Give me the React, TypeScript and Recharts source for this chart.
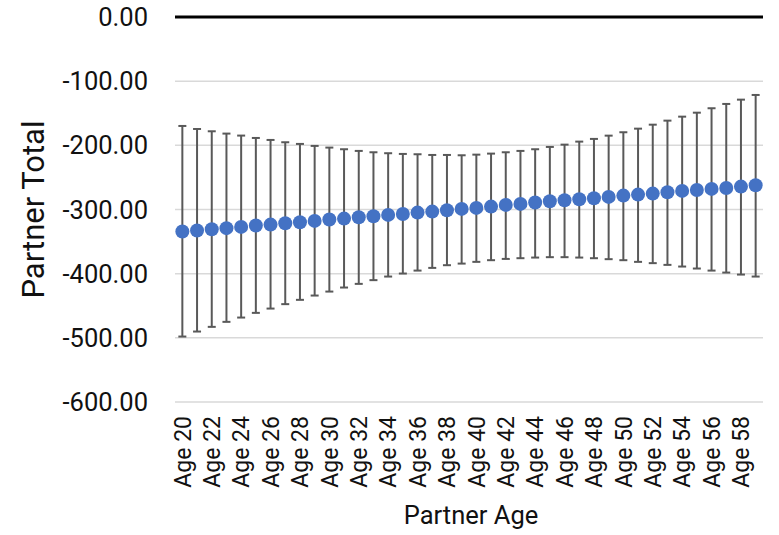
import React from 'react';
import { LineChart, Line, XAxis, YAxis, CartesianGrid, ErrorBar, ReferenceLine, Label } from 'recharts';

const categories = [
  'Age 20', 'Age 21', 'Age 22', 'Age 23', 'Age 24', 'Age 25', 'Age 26', 'Age 27', 'Age 28', 'Age 29',
  'Age 30', 'Age 31', 'Age 32', 'Age 33', 'Age 34', 'Age 35', 'Age 36', 'Age 37', 'Age 38', 'Age 39',
  'Age 40', 'Age 41', 'Age 42', 'Age 43', 'Age 44', 'Age 45', 'Age 46', 'Age 47', 'Age 48', 'Age 49',
  'Age 50', 'Age 51', 'Age 52', 'Age 53', 'Age 54', 'Age 55', 'Age 56', 'Age 57', 'Age 58', 'Age 59',
];

const meanValues = [
  -334.4, -332.8, -330.7, -329.1, -327.1, -325.0, -323.5, -321.4, -319.8, -317.8,
  -315.7, -314.2, -312.0, -310.5, -308.4, -306.9, -304.8, -303.3, -301.1, -299.1,
  -297.5, -295.5, -292.8, -291.3, -289.2, -287.1, -285.5, -284.0, -282.4, -280.4,
  -278.3, -276.8, -275.2, -273.1, -271.0, -269.5, -267.9, -266.4, -264.3, -262.2,
];

const upperValues = [
  -169.8, -174.5, -178.1, -181.7, -184.8, -188.5, -191.6, -195.2, -197.8, -200.9,
  -203.5, -206.1, -208.7, -210.8, -212.3, -213.4, -213.9, -215.0, -215.0, -215.5,
  -214.5, -212.9, -210.8, -208.7, -206.1, -202.5, -198.9, -194.2, -190.0, -184.9,
  -179.6, -174.0, -167.8, -161.5, -155.3, -149.1, -142.2, -135.5, -128.8, -121.5,
];

const lowerValues = [
  -498.0, -490.2, -482.9, -475.1, -468.4, -461.1, -454.4, -447.5, -440.8, -434.1,
  -427.9, -421.6, -415.9, -410.1, -404.5, -399.8, -395.2, -391.0, -386.8, -384.3,
  -381.6, -379.0, -377.0, -375.9, -374.9, -374.3, -374.3, -374.9, -375.9, -377.4,
  -379.0, -381.6, -383.6, -386.3, -388.9, -392.0, -395.2, -398.3, -401.4, -404.5,
];

const yTicks = [-600, -500, -400, -300, -200, -100, 0];

const data = categories.map((name, i) => ({
  name,
  mean: meanValues[i],
  err: [meanValues[i] - lowerValues[i], upperValues[i] - meanValues[i]],
}));

const FONT = 'Roboto, "Noto Sans", sans-serif';
const TEXT = '#111111';

const XTick = (props: any) => {
  const { x, y, payload } = props;
  return (
    <text
      x={x}
      y={y}
      dy="0.355em"
      transform={`rotate(-90, ${x}, ${y})`}
      textAnchor="end"
      fontSize={23}
      fontFamily={FONT}
      fill={TEXT}
    >
      {payload.value}
    </text>
  );
};

const YTick = (props: any) => {
  const { x, y, payload } = props;
  return (
    <text x={x} y={y} dy="0.355em" textAnchor="end" fontSize={25.5} fontFamily={FONT} fill={TEXT}>
      {Number(payload.value).toFixed(2)}
    </text>
  );
};

const YTitle = () => (
  <text
    x={33}
    y={209.5}
    dy="0.355em"
    transform="rotate(-90, 33, 209.5)"
    textAnchor="middle"
    fontSize={31}
    fontFamily={FONT}
    fill={TEXT}
  >
    Partner Total
  </text>
);

const XTitle = () => (
  <text x={471} y={524} textAnchor="middle" fontSize={25.5} fontFamily={FONT} fill={TEXT}>
    Partner Age
  </text>
);

export default function App() {
  return (
    <div style={{ position: 'absolute', left: 0, top: 0, width: 779, height: 535, background: '#fff' }}>
      <LineChart
        width={779}
        height={535}
        data={data}
        margin={{ top: 17, right: 16, bottom: 0, left: 0 }}
        style={{ fontFamily: FONT }}
      >
        <CartesianGrid vertical={false} stroke="#D9D9D9" strokeWidth={1.5} />
        <XAxis
          dataKey="name"
          scale="band"
          interval={1}
          axisLine={false}
          tickLine={false}
          tickSize={0}
          tickMargin={14}
          height={133}
          tick={<XTick />}
        >
          <Label content={<XTitle />} />
        </XAxis>
        <YAxis
          type="number"
          domain={[-600, 0]}
          ticks={yTicks}
          axisLine={false}
          tickLine={false}
          tickSize={0}
          tickMargin={27}
          width={175}
          tick={<YTick />}
        >
          <Label content={<YTitle />} />
        </YAxis>
        <ReferenceLine y={0} stroke="#000000" strokeWidth={3} />
        <Line
          dataKey="mean"
          stroke="none"
          isAnimationActive={false}
          activeDot={false}
          dot={{ r: 7, fill: '#4472C4', stroke: 'none' }}
        >
          <ErrorBar dataKey="err" direction="y" width={4} strokeWidth={2} stroke="#595959" isAnimationActive={false} />
        </Line>
      </LineChart>
    </div>
  );
}
